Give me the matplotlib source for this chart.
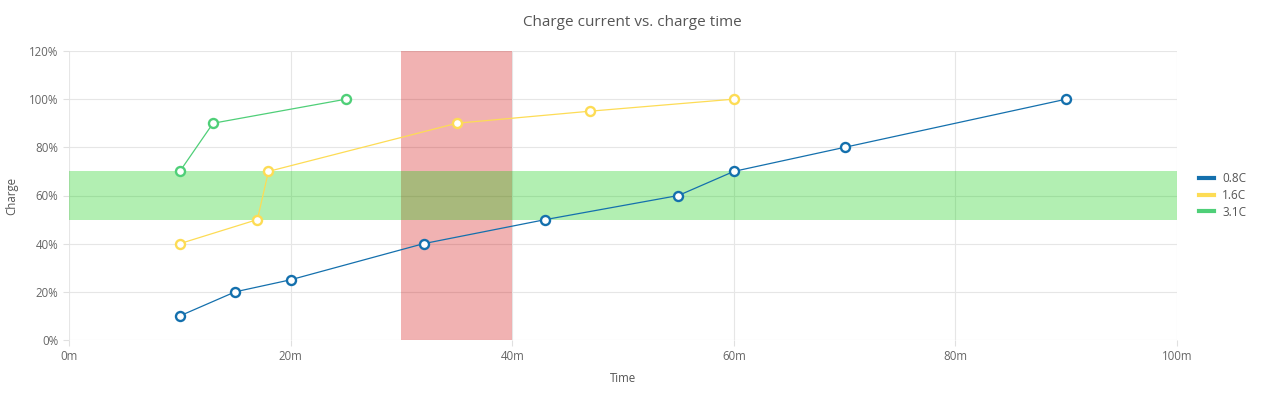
import matplotlib
import matplotlib.pyplot as plt
from matplotlib.ticker import FuncFormatter, MultipleLocator

matplotlib.use("Agg")

plt.rcParams["font.family"] = ["Open Sans", "DejaVu Sans"]

# Data
time_08c = [10, 15, 20, 32, 43, 55, 60, 70, 90]
charge_08c = [10, 20, 25, 40, 50, 60, 70, 80, 100]
time_16c = [10, 17, 18, 35, 47, 60]
charge_16c = [40, 50, 70, 90, 95, 100]
time_31c = [10, 13, 25]
charge_31c = [70, 90, 100]

red_band = (30, 40)      # time range
green_band = (50, 70)    # charge range

series = [
    ("0.8C", time_08c, charge_08c, "#1470ad"),
    ("1.6C", time_16c, charge_16c, "#fddc55"),
    ("3.1C", time_31c, charge_31c, "#4fcf78"),
]

W, H = 1265, 393
fig = plt.figure(figsize=(W / 100, H / 100), dpi=100)
ax = fig.add_axes([69 / W, (H - 340) / H, (1177 - 69) / W, (340 - 51) / H])

ax.axvspan(*red_band, color=(0.82, 0.0, 0.0), alpha=0.3, lw=0, zorder=1)
ax.axhspan(*green_band, color=(0.0, 0.8, 0.0), alpha=0.3, lw=0, zorder=1.1)

for name, xs, ys, col in series:
    ax.plot(xs, ys, color=col, lw=0.9, marker="o", markersize=6.5,
            markerfacecolor="white", markeredgecolor=col, markeredgewidth=1.7,
            label=name, zorder=3)

ax.set_xlim(0, 100)
ax.set_ylim(0, 120)
ax.xaxis.set_major_locator(MultipleLocator(20))
ax.yaxis.set_major_locator(MultipleLocator(20))
ax.xaxis.set_major_formatter(FuncFormatter(lambda v, p: f"{v:.0f}m"))
ax.yaxis.set_major_formatter(FuncFormatter(lambda v, p: f"{v:.0f}%"))

ax.grid(True, color="#e6e6e6", lw=0.8, zorder=0)
ax.set_axisbelow(True)
for s in ax.spines.values():
    s.set_visible(False)
ax.tick_params(colors="#e0e0e0", labelcolor="#666666", labelsize=8.3, length=4, width=0.8)

ax.set_xlabel("Time", fontsize=8.3, color="#555555", labelpad=6)
ax.set_ylabel("Charge", fontsize=8.3, color="#555555", labelpad=8)
fig.text(0.5, 1 - 22 / H, "Charge current vs. charge time", ha="center", va="center",
         fontsize=11, color="#555555")

leg = ax.legend(loc="center left", bbox_to_anchor=(1.01, 0.5), frameon=False,
                fontsize=8.5, handlelength=1.3, handletextpad=0.7, labelspacing=0.3,
                labelcolor="#555555")
for h in leg.get_lines():
    h.set_marker("")
    h.set_linewidth(3)

fig.savefig("out.png", dpi=100, facecolor="white")
